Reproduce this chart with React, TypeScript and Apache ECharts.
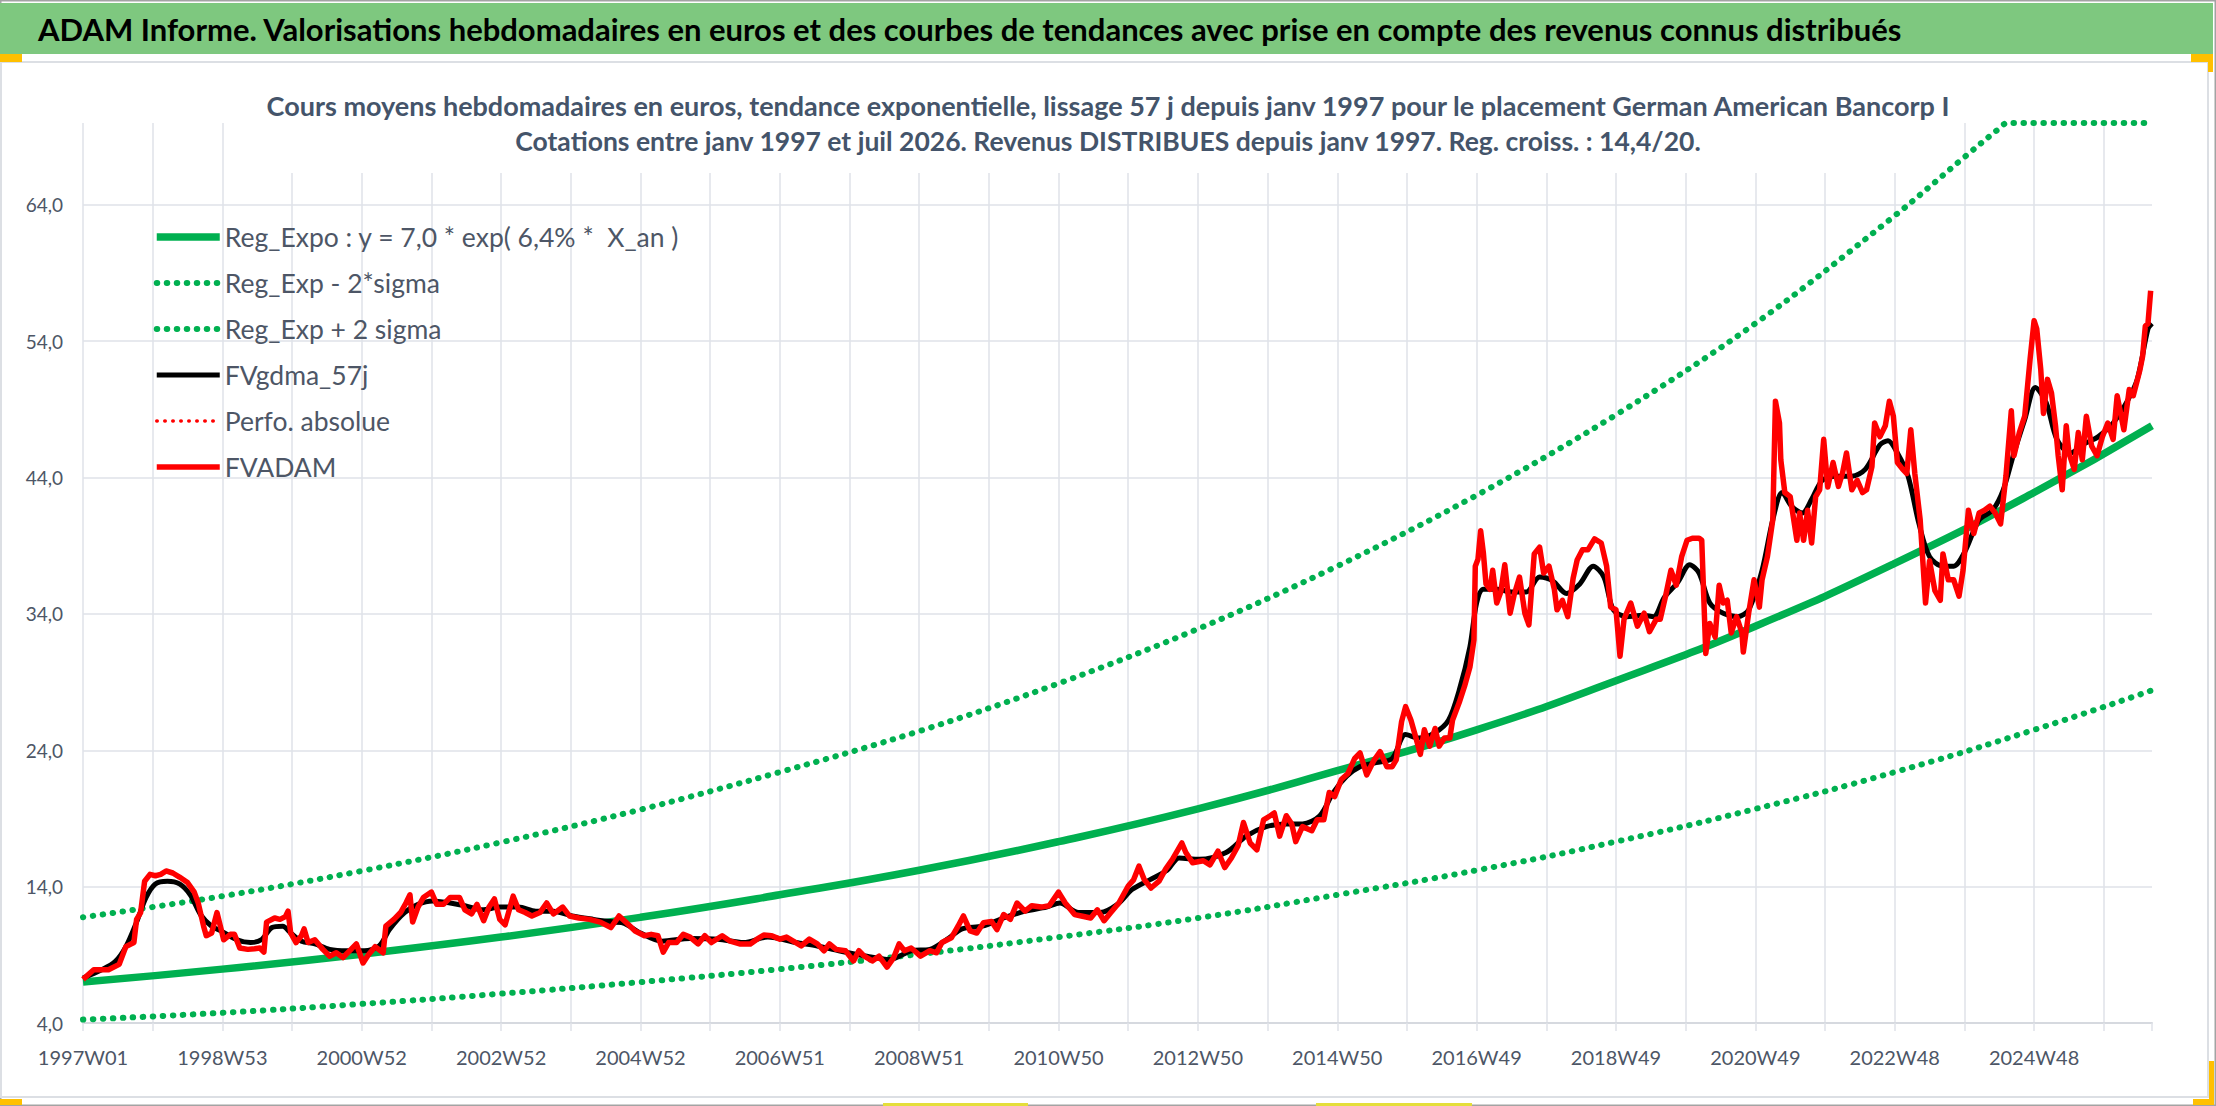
import { useEffect, useRef } from 'react'
import * as echarts from 'echarts'

const FONT = 'Lato, "Open Sans", sans-serif'

// x axis: ISO weeks counted from 1997W01, one label every 104 weeks
const X_LABELS = ['1997W01', '1998W53', '2000W52', '2002W52', '2004W52', '2006W51', '2008W51', '2010W50',
  '2012W50', '2014W50', '2016W49', '2018W49', '2020W49', '2022W48', '2024W48']
const LAST_WEEK = 1544

// regression curves, read every two years
const TREND_WEEKS = [0, 104, 208, 312, 416, 520, 624, 728, 832, 936, 1040, 1144, 1248, 1352, 1456, 1544]
const REG_EXPO = [7.0, 7.95, 9.05, 10.3, 11.75, 13.4, 15.2, 17.3, 19.7, 22.5, 25.5, 29.1, 33.1, 37.7, 42.9, 47.8]
const REG_LOW = [4.25, 4.75, 5.4, 6.15, 7.0, 7.95, 9.05, 10.3, 11.7, 13.4, 15.2, 17.3, 19.7, 22.4, 25.5, 28.4]
// upper band is drawn flat once it reaches the top of the axis
const UPPER_WEEKS = [0, 104, 208, 312, 416, 520, 624, 728, 832, 936, 1040, 1144, 1248, 1352, 1404, 1430, 1436, 1544]
const REG_HIGH = [11.75, 13.3, 15.15, 17.25, 19.65, 22.4, 25.4, 28.9, 32.9, 37.5, 42.7, 48.6, 55.3, 63.2, 67.5, 69.6, 70, 70]

// FVADAM weekly values (sampled)
const FVADAM_WEEKS = [
  0, 8, 19, 27, 32, 38, 40, 43, 46, 50, 54, 58, 62, 67, 72, 78, 83, 86, 90, 92, 96, 100, 103, 105, 110, 113, 117, 123,
  128, 132, 135, 137, 143, 147, 151, 153, 155, 159, 163, 165, 168, 173, 179, 184, 189, 194, 200, 204, 209, 213, 218,
  224, 226, 232, 237, 241, 244, 246, 250, 254, 260, 264, 269, 274, 281, 285, 290, 294, 299, 303, 307, 311, 315, 321,
  325, 330, 335, 341, 346, 351, 358, 363, 370, 378, 386, 394, 400, 405, 412, 419, 424, 429, 433, 437, 443, 448, 453,
  459, 464, 469, 477, 483, 490, 498, 503, 508, 514, 520, 525, 530, 536, 542, 548, 553, 557, 562, 569, 575, 579, 583,
  589, 594, 600, 605, 609, 613, 618, 625, 632, 637, 641, 648, 653, 657, 662, 667, 672, 678, 682, 687, 692, 697, 703,
  708, 715, 721, 728, 733, 740, 745, 752, 757, 762, 767, 773, 780, 784, 788, 792, 797, 803, 808, 813, 820, 823, 828,
  836, 841, 847, 852, 857, 862, 866, 871, 876, 881, 886, 889, 893, 898, 902, 905, 910, 917, 921, 926, 930, 934, 939,
  944, 949, 953, 958, 963, 968, 973, 977, 980, 984, 987, 991, 995, 998, 1001, 1005, 1009, 1012, 1016, 1020, 1022,
  1027, 1031, 1035, 1038, 1039, 1041, 1043, 1045, 1047, 1050, 1052, 1055, 1058, 1061, 1065, 1068, 1072, 1076, 1079,
  1083, 1087, 1090, 1094, 1098, 1100, 1104, 1108, 1112, 1115, 1119, 1123, 1128, 1133, 1137, 1140, 1144, 1147, 1150,
  1155, 1160, 1165, 1169, 1174, 1177, 1181, 1185, 1189, 1193, 1197, 1201, 1206, 1208, 1211, 1214, 1218, 1221, 1224,
  1227, 1230, 1234, 1238, 1239, 1243, 1247, 1251, 1253, 1257, 1261, 1263, 1266, 1267, 1270, 1274, 1279, 1281, 1284,
  1287, 1290, 1293, 1296, 1299, 1302, 1306, 1310, 1313, 1316, 1320, 1324, 1328, 1331, 1335, 1337, 1341, 1345, 1348,
  1351, 1354, 1358, 1361, 1364, 1367, 1371, 1375, 1378, 1382, 1386, 1388, 1392, 1396, 1400, 1403, 1407, 1411, 1415,
  1419, 1423, 1427, 1431, 1435, 1439, 1441, 1445, 1449, 1453, 1456, 1458, 1461, 1463, 1466, 1469, 1472, 1474, 1477,
  1480, 1482, 1486, 1489, 1492, 1495, 1499, 1503, 1507, 1511, 1515, 1518, 1523, 1527, 1530, 1535, 1537, 1539, 1541,
  1543
]
const FVADAM = [
  7.2, 7.9, 7.9, 8.3, 9.6, 9.9, 11.6, 12.1, 14.4, 14.9, 14.8, 14.9, 15.15, 15.0, 14.7, 14.3, 13.6, 12.8, 11.1, 10.4,
  10.6, 12.1, 10.9, 10.1, 10.5, 10.5, 9.5, 9.4, 9.45, 9.5, 9.2, 11.4, 11.7, 11.6, 11.8, 12.2, 10.6, 9.9, 10.4, 10.9,
  9.9, 10.1, 9.4, 8.9, 9.15, 8.8, 9.4, 9.8, 8.4, 9.0, 9.6, 9.15, 11.1, 11.6, 12.1, 12.8, 13.4, 11.4, 12.5, 13.2, 13.6,
  12.7, 12.7, 13.2, 13.2, 12.3, 12.0, 12.7, 11.5, 12.5, 13.1, 11.6, 11.2, 13.3, 12.3, 12.1, 11.85, 12.1, 12.8, 12.0,
  12.5, 11.85, 11.7, 11.6, 11.4, 11.0, 11.85, 11.4, 10.75, 10.4, 10.5, 10.4, 9.2, 9.9, 9.9, 10.5, 10.3, 9.8, 10.4, 9.9,
  10.4, 10.0, 9.8, 9.8, 10.15, 10.45, 10.4, 10.15, 10.3, 10.0, 9.65, 10.15, 9.8, 9.3, 9.8, 9.4, 9.3, 8.55, 9.3, 8.9,
  8.55, 8.9, 8.1, 8.8, 9.8, 9.3, 9.5, 8.9, 9.3, 9.15, 9.9, 10.25, 11.1, 11.85, 10.75, 10.6, 11.35, 11.45, 10.85, 11.95,
  11.6, 12.8, 12.2, 12.6, 12.5, 12.6, 13.6, 12.8, 11.95, 11.85, 11.7, 12.3, 11.5, 12.1, 12.8, 14.05, 14.5, 15.5, 14.5,
  13.9, 14.4, 15.3, 16.0, 17.2, 16.5, 15.75, 15.9, 15.6, 16.6, 15.4, 16.1, 17.0, 18.7, 17.2, 16.7, 18.9, 19.2, 19.4,
  17.7, 19.2, 18.6, 17.3, 18.4, 18.1, 18.9, 18.9, 20.9, 20.6, 21.85, 22.3, 23.4, 23.8, 22.2, 23.2, 23.9, 22.8, 22.8,
  23.3, 26.1, 27.2, 26.2, 24.8, 23.7, 25.5, 24.3, 25.6, 24.3, 24.9, 24.9, 26.2, 27.5, 28.7, 30.1, 32.1, 37.5, 38.0,
  40.1, 38.5, 36.2, 35.8, 37.2, 34.8, 35.6, 37.6, 34.05, 35.4, 36.7, 34.05, 33.2, 38.4, 38.9, 37.0, 37.5, 35.8, 34.3,
  35.0, 33.8, 36.6, 37.95, 38.7, 38.7, 39.5, 39.2, 37.5, 34.5, 34.3, 30.9, 33.6, 34.8, 33.1, 34.05, 32.7, 33.6, 33.6,
  35.3, 37.2, 36.1, 38.2, 39.4, 39.55, 39.55, 39.4, 31.1, 33.3, 32.3, 36.1, 34.8, 35.0, 32.6, 33.8, 32.6, 31.2, 34.05,
  36.5, 34.5, 36.5, 38.2, 40.9, 49.6, 48.0, 45.3, 42.9, 42.6, 39.4, 41.4, 39.4, 41.6, 39.2, 42.6, 43.1, 46.8, 43.3,
  45.1, 43.35, 44.3, 45.8, 43.1, 43.8, 42.9, 43.1, 44.8, 48.0, 47.0, 47.8, 49.6, 48.5, 45.1, 44.6, 44.3, 47.5, 44.3,
  40.9, 34.8, 37.9, 35.7, 35.0, 38.4, 36.5, 36.5, 35.3, 37.2, 41.6, 39.9, 41.4, 41.6, 41.9, 41.4, 40.6, 44.1, 48.9,
  45.6, 47.3, 48.5, 52.65, 55.5, 54.9, 51.9, 48.7, 51.2, 50.2, 47.8, 45.6, 43.1, 47.8, 45.8, 44.6, 47.3, 45.3, 48.5,
  46.3, 45.6, 47.0, 48.0, 46.8, 50.0, 47.5, 50.45, 50.0, 51.9, 52.9, 55.1, 55.3, 57.7
]

// FVgdma_57j smoothed values (sampled)
const GDMA_WEEKS = [
  0, 14, 24, 32, 40, 47, 54, 63, 72, 80, 88, 96, 104, 115, 125, 133, 141, 149, 155, 163, 173, 184, 197, 210, 221, 229,
  240, 250, 261, 274, 285, 298, 311, 325, 338, 351, 365, 381, 396, 404, 416, 432, 453, 474, 493, 511, 532, 548, 564,
  585, 602, 618, 632, 645, 656, 671, 687, 703, 719, 729, 743, 759, 772, 783, 796, 809, 818, 833, 853, 868, 883, 898,
  910, 923, 933, 943, 953, 965, 977, 987, 997, 1009, 1019, 1027, 1035, 1040, 1045, 1055, 1067, 1077, 1087, 1097, 1107,
  1117, 1127, 1135, 1142, 1152, 1164, 1172, 1180, 1190, 1199, 1206, 1214, 1224, 1235, 1243, 1253, 1261, 1268, 1275,
  1283, 1290, 1298, 1309, 1320, 1330, 1341, 1347, 1354, 1362, 1370, 1378, 1388, 1396, 1404, 1415, 1425, 1433, 1441,
  1449, 1457, 1465, 1473, 1483, 1494, 1504, 1515, 1525, 1533, 1541, 1544
]
const GDMA = [
  7.3, 7.9, 8.5, 9.6, 11.4, 13.2, 14.2, 14.4, 14.2, 13.4, 11.9, 11.1, 10.7, 10.1, 9.9, 10.1, 11.0, 11.1, 10.6, 10.0,
  9.8, 9.4, 9.3, 9.3, 9.65, 10.9, 12.1, 12.7, 12.95, 12.8, 12.6, 12.3, 12.5, 12.5, 12.2, 12.2, 11.85, 11.6, 11.4,
  11.3, 10.6, 10.0, 10.2, 10.15, 9.9, 10.3, 9.9, 9.65, 9.3, 8.9, 8.65, 9.3, 9.4, 10.15, 10.9, 11.1, 11.7, 12.2, 12.5,
  12.8, 12.1, 12.1, 12.7, 13.8, 14.5, 15.2, 16.1, 16.0, 16.5, 17.7, 18.4, 18.6, 18.6, 19.2, 20.9, 22.1, 22.8, 23.1,
  23.4, 25.15, 24.9, 25.3, 26.2, 28.4, 31.6, 34.8, 35.8, 35.8, 35.6, 35.6, 36.7, 36.4, 35.5, 36.2, 37.5, 36.7, 34.3,
  33.8, 33.9, 33.8, 35.2, 36.3, 37.6, 37.0, 34.8, 34.05, 33.8, 34.3, 37.2, 40.9, 42.9, 41.9, 41.4, 42.4, 43.8, 44.1,
  44.1, 44.6, 46.4, 46.7, 45.8, 44.1, 40.65, 38.2, 37.5, 37.5, 38.5, 40.9, 41.6, 43.1, 45.8, 48.25, 50.6, 49.5, 46.8,
  45.8, 46.5, 47.0, 48.0, 49.5, 51.2, 54.9, 55.3
]

const NAMES = {
  expo: 'Reg_Expo : y = 7,0 * exp( 6,4% *  X_an )',
  low: 'Reg_Exp - 2*sigma',
  high: 'Reg_Exp + 2 sigma',
  gdma: 'FVgdma_57j',
  perfo: 'Perfo. absolue',
  adam: 'FVADAM'
}

const BANNER = 'ADAM Informe. Valorisations hebdomadaires en euros et des courbes de tendances avec prise en compte des revenus connus distribués'
const TITLE_1 = 'Cours moyens hebdomadaires en euros, tendance exponentielle, lissage 57 j depuis janv 1997 pour le placement German American Bancorp I'
const TITLE_2 = 'Cotations entre janv 1997 et juil 2026. Revenus DISTRIBUES depuis janv 1997. Reg. croiss. : 14,4/20.'

const pairs = (xs: number[], ys: number[]) => xs.map((x, i) => [x, ys[i]])

const GREEN = '#00B050'
const RED = '#FF0000'
const GRID = '#dfe2e8'
const LABEL = '#4d5666'
const TITLE_COLOR = '#44546A'
const ORANGE = '#FFC000'

export default function App() {
  const chartRef = useRef<HTMLDivElement>(null)

  useEffect(() => {
    if (!chartRef.current) return
    const chart = echarts.init(chartRef.current, undefined, { renderer: 'svg' })

    const dotted = (color: string, width: number, gap: number) => ({
      color, width, type: [0.5, gap], cap: 'round' as const
    })

    const option: echarts.EChartsOption = {
      animation: false,
      backgroundColor: '#ffffff',
      title: {
        text: `{a|${TITLE_1}}\n{b|${TITLE_2}}`,
        left: 'center',
        top: 68,
        z: 1,
        padding: [20, 8, 15, 8],
        backgroundColor: '#ffffff',
        textStyle: {
          fontFamily: FONT,
          fontWeight: 'bold',
          color: TITLE_COLOR,
          lineHeight: 35,
          rich: {
            a: { fontFamily: FONT, fontSize: 27, fontWeight: 'bold', color: TITLE_COLOR, lineHeight: 35 },
            b: { fontFamily: FONT, fontSize: 26.5, fontWeight: 'bold', color: TITLE_COLOR, lineHeight: 35 }
          }
        }
      },
      legend: {
        orient: 'vertical',
        left: 153,
        top: 222,
        padding: 0,
        itemGap: 16,
        itemWidth: 63,
        itemHeight: 14,
        lineStyle: { width: 'inherit' as unknown as number },
        itemStyle: { opacity: 0 },
        textStyle: { fontFamily: FONT, fontSize: 26.5, color: LABEL, lineHeight: 30 },
        data: [NAMES.expo, NAMES.low, NAMES.high, NAMES.gdma, NAMES.perfo, NAMES.adam]
      },
      grid: { left: 83, right: 64, top: 123, bottom: 83, containLabel: false },
      xAxis: {
        type: 'value',
        min: 0,
        max: LAST_WEEK,
        interval: 52,
        axisLine: { show: true, lineStyle: { color: '#d6d9df', width: 2 } },
        axisTick: { show: true, length: 8, lineStyle: { color: GRID, width: 1.5 } },
        splitLine: { show: true, showMaxLine: false, lineStyle: { color: GRID, width: 1.5 } },
        axisLabel: {
          margin: 24,
          fontFamily: FONT,
          fontSize: 20,
          color: LABEL,
          formatter: (v: number) => (v % 104 === 0 ? X_LABELS[v / 104] ?? '' : '')
        }
      },
      yAxis: {
        type: 'value',
        min: 4,
        max: 70,
        interval: 10,
        axisLine: { show: false },
        axisTick: { show: false },
        splitLine: { show: true, showMaxLine: false, lineStyle: { color: GRID, width: 1.5 } },
        axisLabel: {
          margin: 20,
          showMaxLabel: false,
          fontFamily: FONT,
          fontSize: 19,
          color: LABEL,
          formatter: (v: number) => v.toFixed(1).replace('.', ',')
        }
      },
      series: [
        {
          name: NAMES.expo, type: 'line', symbol: 'none', smooth: true,
          lineStyle: { color: GREEN, width: 7.5 }, itemStyle: { color: GREEN },
          data: pairs(TREND_WEEKS, REG_EXPO)
        },
        {
          name: NAMES.low, type: 'line', symbol: 'none', smooth: true,
          lineStyle: dotted(GREEN, 6, 9.5), itemStyle: { color: GREEN },
          data: pairs(TREND_WEEKS, REG_LOW)
        },
        {
          name: NAMES.high, type: 'line', symbol: 'none', smooth: 0.35,
          lineStyle: dotted(GREEN, 6, 9.5), itemStyle: { color: GREEN },
          data: pairs(UPPER_WEEKS, REG_HIGH)
        },
        {
          name: NAMES.gdma, type: 'line', symbol: 'none', smooth: 0.3,
          lineStyle: { color: '#000000', width: 5 }, itemStyle: { color: '#000000' },
          data: pairs(GDMA_WEEKS, GDMA)
        },
        {
          name: NAMES.perfo, type: 'line', symbol: 'none',
          lineStyle: dotted(RED, 3.5, 7.5), itemStyle: { color: RED },
          data: []
        },
        {
          name: NAMES.adam, type: 'line', symbol: 'none',
          lineStyle: { color: RED, width: 5.5, join: 'round' }, itemStyle: { color: RED },
          data: pairs(FVADAM_WEEKS, FVADAM)
        }
      ],
      graphic: [
        { type: 'rect', shape: { x: 0.75, y: 0.75, width: 2214.5, height: 1104.5 }, style: { fill: 'none', stroke: '#a3a3a3', lineWidth: 1.5 }, silent: true },
        { type: 'rect', shape: { x: 1, y: 62, width: 2207, height: 1035 }, style: { fill: 'none', stroke: '#dcdfe4', lineWidth: 2 }, silent: true },
        { type: 'rect', shape: { x: 0, y: 3, width: 2213, height: 51 }, style: { fill: '#7EC87F' }, silent: true },
        {
          type: 'text', x: 38, y: 29, silent: true,
          style: {
            text: BANNER, fontFamily: FONT, fontWeight: 'bold', fontSize: 31,
            fill: '#000000', textVerticalAlign: 'middle'
          }
        },
        { type: 'rect', shape: { x: 0, y: 54, width: 22, height: 8 }, style: { fill: ORANGE }, silent: true },
        { type: 'rect', shape: { x: 2191, y: 54, width: 22, height: 8 }, style: { fill: ORANGE }, silent: true },
        { type: 'rect', shape: { x: 2208, y: 62, width: 5, height: 10 }, style: { fill: ORANGE }, silent: true },
        { type: 'rect', shape: { x: 0, y: 1099, width: 22, height: 6 }, style: { fill: ORANGE }, silent: true },
        { type: 'rect', shape: { x: 2209, y: 1061, width: 5, height: 38 }, style: { fill: ORANGE }, silent: true },
        { type: 'rect', shape: { x: 2193, y: 1099, width: 21, height: 6 }, style: { fill: ORANGE }, silent: true },
        { type: 'rect', shape: { x: 883, y: 1103, width: 145, height: 3 }, style: { fill: '#E4DE3A' }, silent: true },
        { type: 'rect', shape: { x: 1316, y: 1103, width: 156, height: 3 }, style: { fill: '#E4DE3A' }, silent: true }
      ]
    }

    chart.setOption(option)
    return () => chart.dispose()
  }, [])

  return (
    <div
      ref={chartRef}
      style={{ position: 'fixed', left: 0, top: 0, width: 2216, height: 1106, background: '#ffffff' }}
    />
  )
}
